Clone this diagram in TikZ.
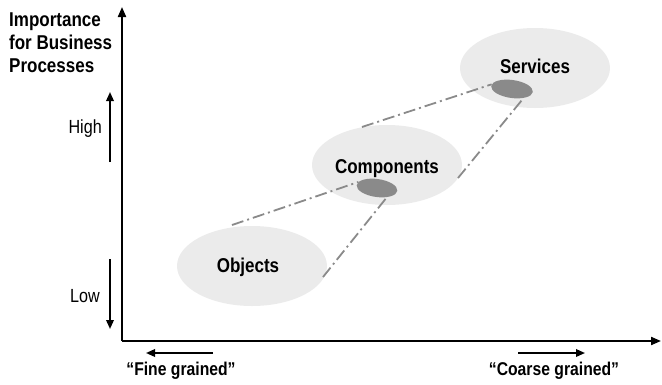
\documentclass[tikz,border=0pt]{standalone}
\usepackage{fontspec}
\setmainfont{Liberation Sans}[FakeStretch=0.85]
\usetikzlibrary{arrows.meta,shapes.geometric}
\definecolor{lightfill}{HTML}{EBEBEB}
\definecolor{darkfill}{HTML}{8A8A8A}
\definecolor{linegray}{HTML}{8A8A8A}
\begin{document}
\begin{tikzpicture}[x=1pt,y=-1pt,
  axis/.style={line width=2pt,-{Triangle[length=10pt,width=8pt]}},
  small/.style={line width=1.8pt,-{Triangle[length=9pt,width=7.5pt]}},
  blob/.style={ellipse,fill=lightfill,minimum width=150pt,minimum height=80pt,inner sep=0pt},
  knob/.style={ellipse,fill=darkfill,inner sep=0pt},
  lbl/.style={font=\fontsize{20}{23}\selectfont\bfseries,anchor=base,inner sep=0pt},
  side/.style={font=\fontsize{19}{22}\selectfont,anchor=base,inner sep=0pt},
  grain/.style={font=\fontsize{18.5}{22}\selectfont\bfseries,anchor=base,inner sep=0pt},
  dd/.style={draw=linegray,line width=1.8pt,dash pattern=on 12pt off 4pt on 2pt off 4pt}]
\useasboundingbox (0,0) rectangle (662,384);
% ellipses
\node[blob] (obj) at (252,266) {};
\node[blob] (comp) at (387,165) {};
\node[blob] (serv) at (535,68) {};
\node[knob,minimum width=41pt,minimum height=18pt,rotate=-8] (ck) at (377,188) {};
\node[knob,minimum width=42pt,minimum height=18pt,rotate=-8] (sk) at (512,89) {};
% dash-dot lines
\coordinate (a1) at (232,225);
\coordinate (a2) at (323,277);
\coordinate (b1) at (362,127);
\coordinate (b2) at (458,178);
\draw[dd] (a1) -- (ck.170);
\draw[dd] (a2) -- (ck.-35);
\draw[dd] (b1) -- (sk.175);
\draw[dd] (b2) -- (sk.-30);
% labels
\node[lbl] (tobj) at (248,272) {Objects};
\node[lbl] (tcomp) at (387,173) {Components};
\node[lbl] (tserv) at (535,73) {Services};
% axes
\coordinate (org) at (122,341);
\coordinate (ytop) at (122,7);
\coordinate (xend) at (661,341);
\draw[axis] (org) -- (ytop);
\draw[axis] (org) -- (xend);
% title
\node[font=\fontsize{20}{23}\selectfont\bfseries,align=left,anchor=base west,inner sep=0pt] (title) at (9,72)
  {Importance\\for Business\\Processes};
% high / low
\coordinate (h0) at (110,162);
\coordinate (h1) at (110,92);
\coordinate (l0) at (110,259);
\coordinate (l1) at (110,329);
\draw[small] (h0) -- (h1);
\draw[small] (l0) -- (l1);
\node[side,anchor=base east] (thigh) at (102,133) {High};
\node[side,anchor=base east] (tlow) at (100,302) {Low};
% grain arrows
\coordinate (f0) at (213,353);
\coordinate (f1) at (146,353);
\coordinate (c0) at (518,353);
\coordinate (c1) at (585,353);
\draw[small] (f0) -- (f1);
\draw[small] (c0) -- (c1);
\node[grain] (tfine) at (181,375) {“Fine grained”};
\node[grain] (tcoarse) at (554,375) {“Coarse grained”};
\end{tikzpicture}
\end{document}
